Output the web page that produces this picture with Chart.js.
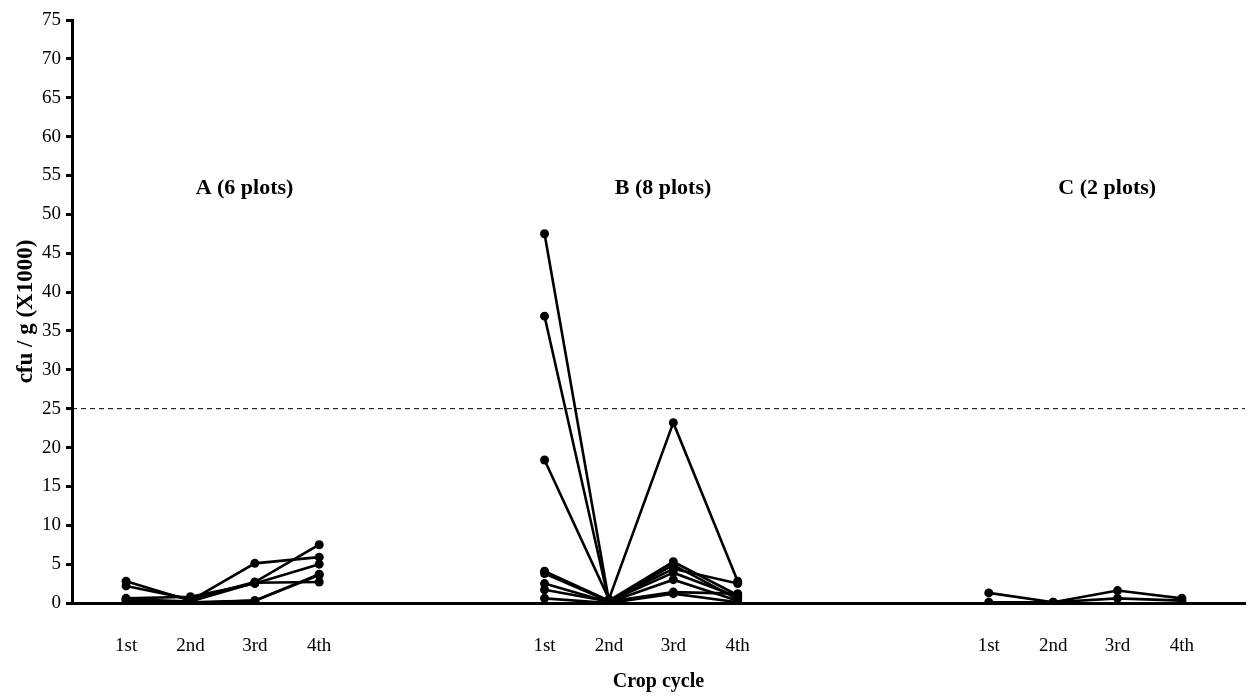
<!DOCTYPE html>
<html>
<head>
<meta charset="utf-8">
<script src="https://cdn.jsdelivr.net/npm/chart.js@4"></script>
<style>
  html, body { margin: 0; padding: 0; background: #fff; }
  #wrap { width: 1251px; height: 696px; }
</style>
</head>
<body>
<div id="wrap"><canvas id="cropChart" width="1251" height="696"></canvas></div>
<script>
// crop cycles and groups
var cycles = ['1st', '2nd', '3rd', '4th'];
var groupNames = ['A (6 plots)', 'B (8 plots)', 'C (2 plots)'];

// cfu / g (x1000), one row per plot, one value per crop cycle
var groupA = [
  [2.8, 0.3, 5.1, 5.9],
  [2.2, 0.5, 2.7, 7.5],
  [0.6, 0.8, 2.5, 5.0],
  [0.5, 0.2, 2.6, 2.7],
  [0.3, 0.1, 0.3, 3.7],
  [0.1, 0.0, 0.3, 3.6]
];
var groupB = [
  [47.5, 0.3, 5.3, 1.0],
  [36.9, 0.2, 4.9, 0.5],
  [18.4, 0.5, 23.2, 2.8],
  [4.1, 0.3, 4.4, 2.5],
  [3.8, 0.2, 3.9, 0.8],
  [2.5, 0.1, 3.0, 0.3],
  [1.7, 0.2, 1.4, 1.2],
  [0.6, 0.0, 1.2, 0.1]
];
var groupC = [
  [1.3, 0.1, 1.6, 0.6],
  [0.1, 0.1, 0.6, 0.3]
];
var threshold = 25;

var groups = [groupA, groupB, groupC];
var groupStart = [0, 6.5, 13.4];   // where each group begins on the x scale
var xMin = -0.84, xMax = 17.38;
var serif = '"Liberation Serif", "DejaVu Serif", serif';

function xOf(g, c) { return groupStart[g] + c; }

var datasets = [];
groups.forEach(function (rows, g) {
  rows.forEach(function (row, i) {
    datasets.push({
      label: groupNames[g] + ' ' + (i + 1),
      data: row.map(function (v, c) { return { x: xOf(g, c), y: v }; }),
      borderColor: '#000',
      backgroundColor: '#000',
      borderWidth: 2.6,
      pointRadius: 4.5,
      pointBorderWidth: 0,
      pointBackgroundColor: '#000',
      tension: 0
    });
  });
});
// dashed limit line
datasets.push({
  label: 'limit',
  data: [{ x: xMin, y: threshold }, { x: xMax, y: threshold }],
  borderColor: '#000',
  borderWidth: 1,
  borderDash: [5, 4],
  pointRadius: 0
});

var tickValues = [];
groups.forEach(function (rows, g) {
  cycles.forEach(function (c, i) { tickValues.push(xOf(g, i)); });
});

// group captions
var groupLabels = {
  id: 'groupLabels',
  afterDatasetsDraw: function (chart) {
    var ctx = chart.ctx, xs = chart.scales.x, ys = chart.scales.y;
    ctx.save();
    ctx.fillStyle = '#000';
    ctx.font = 'bold 22px ' + serif;
    ctx.textAlign = 'center';
    ctx.textBaseline = 'middle';
    groupNames.forEach(function (name, g) {
      ctx.fillText(name, xs.getPixelForValue(xOf(g, 1.84)), ys.getPixelForValue(53.4));
    });
    ctx.restore();
  }
};

new Chart(document.getElementById('cropChart').getContext('2d'), {
  type: 'line',
  data: { datasets: datasets },
  plugins: [groupLabels],
  options: {
    responsive: false,
    animation: false,
    layout: { padding: { top: 20, right: 6, left: 0, bottom: 4 } },
    plugins: { legend: { display: false }, tooltip: { enabled: false } },
    scales: {
      x: {
        type: 'linear',
        min: xMin,
        max: xMax,
        afterFit: function (scale) { scale.height = 89; },
        afterBuildTicks: function (scale) {
          scale.ticks = tickValues.map(function (v) { return { value: v }; });
        },
        ticks: {
          autoSkip: false,
          maxRotation: 0,
          padding: 32,
          color: '#000',
          font: { family: serif, size: 19 },
          callback: function (value, index) { return cycles[index % 4]; }
        },
        grid: { display: false, drawTicks: false },
        border: { display: true, color: '#000', width: 3 },
        title: {
          display: true,
          text: 'Crop cycle',
          color: '#000',
          font: { family: serif, size: 20, weight: 'bold' },
          padding: { top: 0, bottom: -2 }
        }
      },
      y: {
        min: 0,
        max: 75,
        afterFit: function (scale) { scale.width = 72; },
        ticks: {
          stepSize: 5,
          color: '#000',
          padding: 5,
          font: { family: serif, size: 19 }
        },
        grid: {
          display: true,
          drawOnChartArea: false,
          drawTicks: true,
          tickLength: 6,
          tickWidth: 3,
          tickColor: '#000'
        },
        border: { display: true, color: '#000', width: 3 },
        title: {
          display: true,
          text: 'cfu / g (X1000)',
          color: '#000',
          font: { family: serif, size: 23, weight: 'bold' },
          padding: { top: 12, bottom: 0 }
        }
      }
    }
  }
});
</script>
</body>
</html>
